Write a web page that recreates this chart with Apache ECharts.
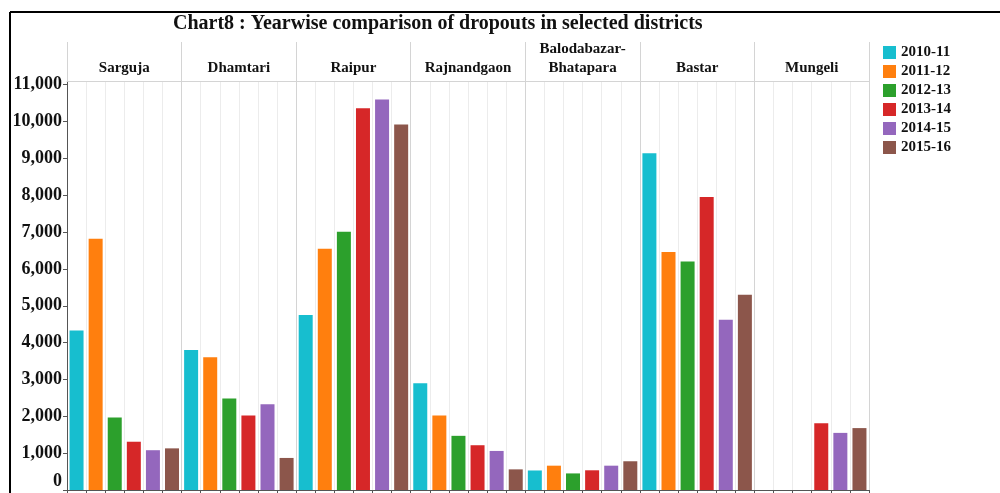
<!DOCTYPE html>
<html>
<head>
<meta charset="utf-8">
<script src="https://cdn.jsdelivr.net/npm/echarts@6/dist/echarts.min.js"></script>
<style>
  html, body { margin: 0; padding: 0; background: #fff; }
  #chart { width: 1000px; height: 493px; }
</style>
</head>
<body>
<div id="chart"></div>
<script>
// Districts (facets) and academic years (series)
const districts = ['Sarguja', 'Dhamtari', 'Raipur', 'Rajnandgaon', 'Balodabazar-\nBhatapara', 'Bastar', 'Mungeli'];
const years = ['2010-11', '2011-12', '2012-13', '2013-14', '2014-15', '2015-16'];

// Dropouts per district, one array per year
const dropouts2010_11 = [4330, 3800, 4750, 2900, 530, 9140, null];
const dropouts2011_12 = [6820, 3600, 6550, 2020, 660, 6460, null];
const dropouts2012_13 = [1965, 2480, 7010, 1470, 450, 6200, null];
const dropouts2013_14 = [1310, 2020, 10360, 1215, 535, 7950, 1810];
const dropouts2014_15 = [1080, 2330, 10600, 1060, 660, 4620, 1550];
const dropouts2015_16 = [1130, 870, 9920, 560, 780, 5300, 1680];

const yearValues = [dropouts2010_11, dropouts2011_12, dropouts2012_13, dropouts2013_14, dropouts2014_15, dropouts2015_16];
const yearColors = ['#17becf', '#ff7f0e', '#2ca02c', '#d62728', '#9467bd', '#8c564b'];

// One slot per district/year pair on the lower category axis
const slots = [];
districts.forEach(d => years.forEach(y => slots.push(d + ' ' + y)));

const series = years.map((y, yi) => ({
  name: y,
  type: 'bar',
  xAxisIndex: 0,
  yAxisIndex: 0,
  barWidth: 14,
  barGap: '-100%',
  itemStyle: { color: yearColors[yi] },
  data: slots.map((s, si) => {
    const di = Math.floor(si / years.length);
    return (si % years.length === yi) ? yearValues[yi][di] : null;
  })
}));

const serif = '"Liberation Serif", "Times New Roman", serif';
const chart = echarts.init(document.getElementById('chart'), null, { renderer: 'canvas' });
chart.setOption({
  animation: false,
  backgroundColor: '#fff',
  color: yearColors,
  title: {
    text: 'Chart8 : Yearwise comparison of dropouts in selected districts',
    left: 173,
    top: 14,
    padding: 0,
    textStyle: { fontFamily: serif, fontWeight: 'bold', fontSize: 20, color: '#111' }
  },
  legend: {
    orient: 'vertical',
    left: 883,
    top: 45,
    padding: 0,
    itemWidth: 13,
    itemHeight: 13,
    itemGap: 4,
    icon: 'rect',
    textStyle: { fontFamily: serif, fontWeight: 'bold', fontSize: 15, color: '#111' },
    data: years
  },
  grid: { left: 67, right: 131, top: 81, bottom: 3, containLabel: false, outerBoundsMode: 'none' },
  xAxis: [
    {
      type: 'category',
      data: slots,
      position: 'bottom',
      axisLine: { show: true, lineStyle: { color: '#555', width: 1 } },
      axisTick: { show: true, interval: 0, length: 3, lineStyle: { color: '#555' } },
      axisLabel: { show: false, interval: 0 },
      splitLine: { show: true, interval: 0, lineStyle: { color: '#ececec', width: 1 } }
    },
    {
      type: 'category',
      data: districts,
      position: 'top',
      axisLine: { show: true, lineStyle: { color: '#d4d4d4', width: 1 } },
      axisTick: { show: true, interval: 0, length: 39, lineStyle: { color: '#d4d4d4' } },
      axisLabel: {
        show: true,
        interval: 0,
        margin: 3,
        fontFamily: serif,
        fontWeight: 'bold',
        fontSize: 15,
        lineHeight: 19,
        color: '#111'
      },
      splitLine: { show: true, interval: 0, lineStyle: { color: '#d4d4d4', width: 1 } }
    }
  ],
  yAxis: {
    type: 'value',
    min: 0,
    max: 11100,
    interval: 1000,
    axisLine: { show: true, lineStyle: { color: '#555', width: 1 } },
    axisTick: { show: true, length: 4, lineStyle: { color: '#555' } },
    splitLine: { show: false },
    axisLabel: {
      showMaxLabel: false,
      margin: 5,
      fontFamily: serif,
      fontWeight: 'bold',
      fontSize: 18,
      color: '#111',
      // the zero label sits just above the baseline so it stays inside the frame
      formatter: v => (v === 0 ? '{zero|0}' : (v % 1000 === 0 ? v.toLocaleString('en-US') : '')),
      rich: {
        zero: { fontFamily: serif, fontWeight: 'bold', fontSize: 18, color: '#111', padding: [0, 0, 18, 0] }
      }
    }
  },
  graphic: [
    { type: 'line', shape: { x1: 10, y1: 12, x2: 1000, y2: 12 }, style: { stroke: '#000', lineWidth: 2 } },
    { type: 'line', shape: { x1: 10, y1: 12, x2: 10, y2: 493 }, style: { stroke: '#000', lineWidth: 2 } }
  ],
  series: series
});
</script>
</body>
</html>
